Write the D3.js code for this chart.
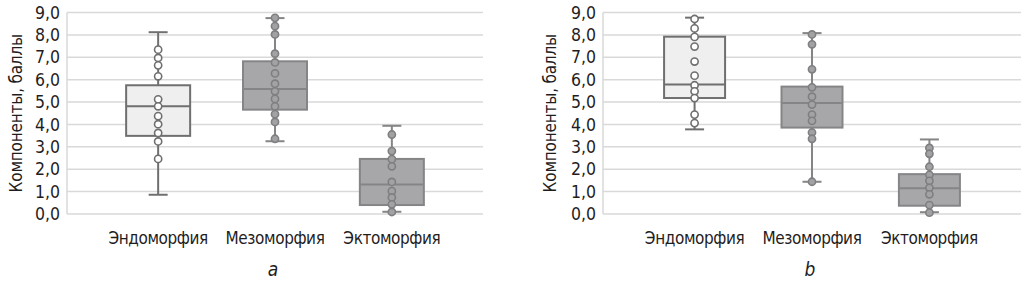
<!DOCTYPE html>
<html>
<head>
<meta charset="utf-8">
<script src="https://cdn.jsdelivr.net/npm/d3@7"></script>
<style>
  body { margin: 0; background: #fff; }
  text { font-family: "DejaVu Sans", sans-serif; font-stretch: condensed; fill: #1f1d1e; }
</style>
</head>
<body>
<div class="canvas"></div>
<script>
// данные
const categories = ["Эндоморфия", "Мезоморфия", "Эктоморфия"];
const yTicks = [0, 1, 2, 3, 4, 5, 6, 7, 8, 9];
const panelLabels = ["a", "b"];
const yTitle = "Компоненты, баллы";

// панель a
const aMin = [0.86, 3.25, 0.10];
const aQ1 = [3.49, 4.66, 0.40];
const aMedian = [4.81, 5.58, 1.32];
const aQ3 = [5.75, 6.82, 2.46];
const aMax = [8.12, 8.75, 3.94];
const aPoints = [
  [7.34, 6.97, 6.64, 6.15, 5.12, 4.81, 4.37, 4.01, 3.62, 3.24, 2.46],
  [8.76, 8.39, 8.02, 7.16, 6.77, 6.28, 5.82, 5.48, 5.14, 4.81, 4.46, 4.11, 3.36],
  [3.55, 2.81, 2.45, 2.13, 1.43, 1.02, 0.74, 0.43, 0.09]
];

// панель b
const bMin = [3.78, 1.44, 0.08];
const bQ1 = [5.18, 3.86, 0.37];
const bMedian = [5.78, 4.96, 1.15];
const bQ3 = [7.92, 5.69, 1.78];
const bMax = [8.77, 8.08, 3.33];
const bPoints = [
  [8.71, 8.29, 7.91, 7.48, 6.81, 6.18, 5.75, 5.48, 5.18, 4.44, 4.06],
  [8.02, 7.58, 6.46, 5.66, 5.24, 4.89, 4.44, 4.16, 3.64, 3.36, 1.44],
  [2.95, 2.69, 2.11, 1.75, 1.48, 1.17, 0.88, 0.40, 0.06]
];

const dims = { width: 1024, height: 282 };

const svg = d3.select('.canvas')
  .append('svg')
  .attr('width', dims.width)
  .attr('height', dims.height);

const y = d3.scaleLinear().domain([0, 9]).range([214, 12.5]);

// стили: первая категория светлая, остальные тёмные
const styles = [
  { fill: '#efefef', stroke: '#6f6f6f', dot: '#ffffff', dotStroke: '#6f6f6f' },
  { fill: '#a7a7a9', stroke: '#858587', dot: '#a2a2a4', dotStroke: '#7f7f81' },
  { fill: '#a7a7a9', stroke: '#858587', dot: '#a2a2a4', dotStroke: '#7f7f81' }
];

const panels = [
  { left: 67, right: 483, labelX: 16, boxW: 64, label: panelLabels[0],
    min: aMin, q1: aQ1, med: aMedian, q3: aQ3, max: aMax, pts: aPoints },
  { left: 603, right: 1021, labelX: 550, boxW: 61, label: panelLabels[1],
    min: bMin, q1: bQ1, med: bMedian, q3: bQ3, max: bMax, pts: bPoints }
];

const drawPanel = (p) => {
  const g = svg.append('g');

  const x = d3.scalePoint()
    .domain(categories)
    .range([p.left, p.right])
    .padding(0.78);

  // сетка
  g.selectAll('line.grid')
    .data(yTicks)
    .enter().append('line')
      .attr('class', 'grid')
      .attr('x1', p.left).attr('x2', p.right)
      .attr('y1', d => y(d)).attr('y2', d => y(d))
      .attr('stroke', '#d9d9d9')
      .attr('stroke-width', 1.5);

  g.append('line')
    .attr('x1', p.left).attr('x2', p.left)
    .attr('y1', y(9)).attr('y2', y(0))
    .attr('stroke', '#d9d9d9')
    .attr('stroke-width', 1.5);

  // подписи оси Y
  g.selectAll('text.ytick')
    .data(yTicks)
    .enter().append('text')
      .attr('class', 'ytick')
      .attr('x', p.left - 7)
      .attr('y', d => y(d))
      .attr('dy', '0.35em')
      .attr('text-anchor', 'end')
      .style('font-size', '17.5px')
      .text(d => d3.format('.1f')(d).replace('.', ','));

  g.append('text')
    .attr('transform', `translate(${p.labelX}, ${(y(0) + y(9)) / 2}) rotate(-90)`)
    .attr('text-anchor', 'middle')
    .attr('dy', '0.35em')
    .style('font-size', '17px')
    .style('letter-spacing', '-0.2px')
    .text(yTitle);

  // подписи категорий
  g.selectAll('text.cat')
    .data(categories)
    .enter().append('text')
      .attr('class', 'cat')
      .attr('x', d => x(d))
      .attr('y', 244)
      .attr('text-anchor', 'middle')
      .style('font-size', '17px')
      .style('letter-spacing', '-0.4px')
      .text(d => d);

  g.append('text')
    .attr('x', x(categories[1]) - 2)
    .attr('y', 276)
    .attr('text-anchor', 'middle')
    .style('font-size', '19px')
    .style('font-style', 'italic')
    .text(p.label);

  // ящики
  categories.forEach((c, i) => {
    const cx = x(c);
    const s = styles[i];
    const bw = p.boxW;
    const capW = 19;
    const bx = g.append('g');

    // усы
    bx.append('line')
      .attr('x1', cx).attr('x2', cx)
      .attr('y1', y(p.max[i])).attr('y2', y(p.min[i]))
      .attr('stroke', s.stroke).attr('stroke-width', 2);
    [p.max[i], p.min[i]].forEach(v => {
      bx.append('line')
        .attr('x1', cx - capW / 2).attr('x2', cx + capW / 2)
        .attr('y1', y(v)).attr('y2', y(v))
        .attr('stroke', s.stroke).attr('stroke-width', 2);
    });

    bx.append('rect')
      .attr('x', cx - bw / 2)
      .attr('y', y(p.q3[i]))
      .attr('width', bw)
      .attr('height', y(p.q1[i]) - y(p.q3[i]))
      .attr('fill', s.fill)
      .attr('stroke', s.stroke)
      .attr('stroke-width', 2);

    bx.append('line')
      .attr('x1', cx - bw / 2).attr('x2', cx + bw / 2)
      .attr('y1', y(p.med[i])).attr('y2', y(p.med[i]))
      .attr('stroke', s.stroke).attr('stroke-width', 2);

    // точки
    bx.selectAll('circle')
      .data(p.pts[i])
      .enter().append('circle')
        .attr('cx', cx)
        .attr('cy', d => y(d))
        .attr('r', 3.6)
        .attr('fill', s.dot)
        .attr('stroke', s.dotStroke)
        .attr('stroke-width', 1.6);
  });
};

panels.forEach(drawPanel);
</script>
</body>
</html>
